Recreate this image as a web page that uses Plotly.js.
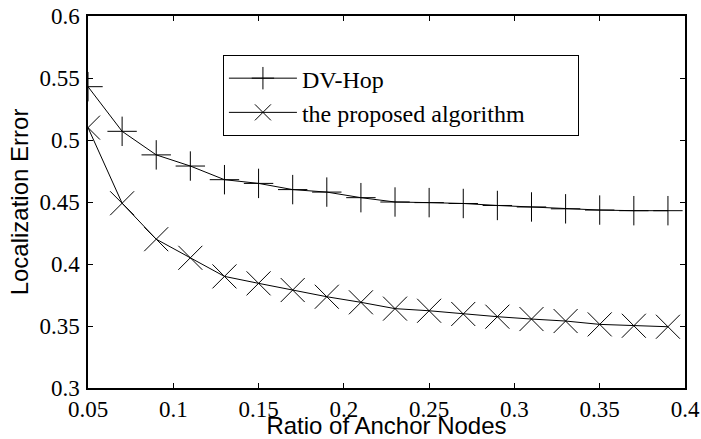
<!DOCTYPE html>
<html>
<head>
<meta charset="utf-8">
<script src="https://cdn.plot.ly/plotly-3.0.1.min.js"></script>
<style>html,body{margin:0;padding:0;background:#fff;}#chart{width:701px;height:439px;}</style>
</head>
<body>
<div id="chart"></div>
<script>
var ratio = [0.05,0.07,0.09,0.11,0.13,0.15,0.17,0.19,0.21,0.23,0.25,0.27,0.29,0.31,0.33,0.35,0.37,0.39];
var dvHop = [0.543,0.507,0.488,0.479,0.468,0.465,0.460,0.458,0.4535,0.450,0.4495,0.4488,0.4472,0.4460,0.4445,0.4435,0.4430,0.4430];
var proposed = [0.510,0.449,0.420,0.405,0.390,0.3844,0.379,0.3736,0.3691,0.364,0.3623,0.3597,0.3575,0.3556,0.354,0.3513,0.3502,0.3494];
var names = ["DV-Hop","the proposed algorithm"];
var xTicks = [0.05,0.1,0.15,0.2,0.25,0.3,0.35,0.4];
var xTickText = ["0.05","0.1","0.15","0.2","0.25","0.3","0.35","0.4"];
var yTicks = [0.3,0.35,0.4,0.45,0.5,0.55,0.6];
var yTickText = ["0.3","0.35","0.4","0.45","0.5","0.55","0.6"];

var pad = "\u00a0\u00a0\u00a0\u00a0\u00a0\u00a0\u00a0\u00a0";
var traces = [
  {x: ratio, y: dvHop, name: names[0], mode: "lines+markers", type: "scatter",
   line: {color: "#000", width: 1},
   marker: {symbol: "cross-thin-open", size: 21, color: "#000", line: {color: "#000", width: 1}}},
  {x: ratio, y: proposed, name: names[1] + pad, mode: "lines+markers", type: "scatter",
   line: {color: "#000", width: 1},
   marker: {symbol: "x-thin-open", size: 24, color: "#000", line: {color: "#000", width: 1}}}
];

var serif = "Liberation Serif";
var sans = "Liberation Sans";
var layout = {
  width: 701, height: 439,
  font: {family: serif, size: 23, color: "#000"},
  margin: {l: 88, r: 16, t: 16, b: 51, pad: 0},
  paper_bgcolor: "#fff", plot_bgcolor: "#fff",
  showlegend: true,
  dragmode: false,
  hovermode: false,
  legend: {x: 0.226, y: 0.895, xanchor: "left", yanchor: "top",
           bordercolor: "#000", borderwidth: 1, bgcolor: "#fff",
           font: {family: serif, size: 24, color: "#000"},
           itemwidth: 68},
  xaxis: {range: [0.05, 0.4], tickvals: xTicks, ticktext: xTickText, fixedrange: true,
          showgrid: false, zeroline: false, showline: true, linecolor: "#000", linewidth: 1.5,
          mirror: "ticks", ticks: "inside", ticklen: 5, tickcolor: "#000", tickwidth: 1,
          tickfont: {family: serif, size: 23, color: "#000"}, ticklabelstandoff: 0,
          title: {text: "Ratio of Anchor Nodes", standoff: 0,
                  font: {family: sans, size: 24, color: "#000"}}},
  yaxis: {range: [0.3, 0.6], tickvals: yTicks, ticktext: yTickText, fixedrange: true,
          showgrid: false, zeroline: false, showline: true, linecolor: "#000", linewidth: 1.5,
          mirror: "ticks", ticks: "inside", ticklen: 5, tickcolor: "#000", tickwidth: 1,
          tickfont: {family: serif, size: 23, color: "#000"}, ticklabelstandoff: 2,
          title: {text: "Localization Error", standoff: 4,
                  font: {family: sans, size: 24, color: "#000"}}}
};
Plotly.newPlot("chart", traces, layout, {displayModeBar: false});
</script>
</body>
</html>
